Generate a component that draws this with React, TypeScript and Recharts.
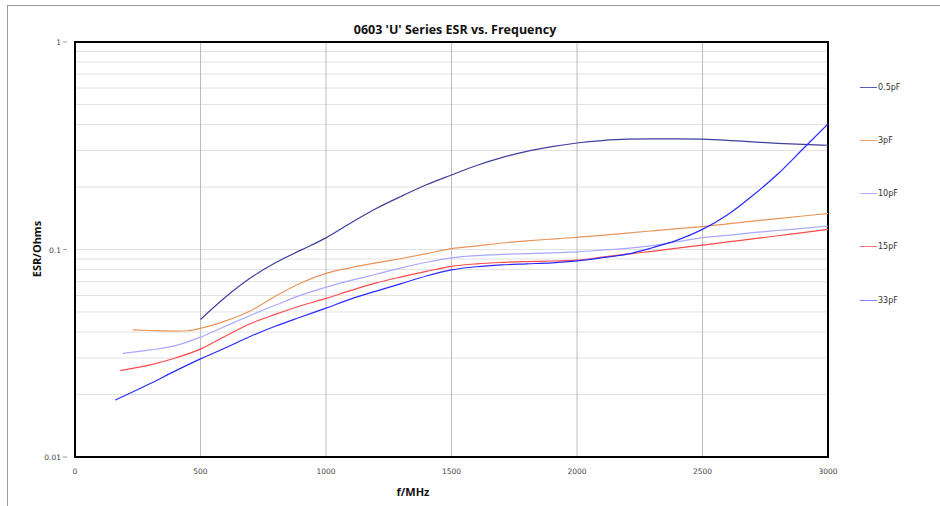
import React from 'react';
import { LineChart, Line, XAxis, YAxis, CartesianGrid, ReferenceArea } from 'recharts';

// Frequency (MHz) and ESR (Ohms) for each capacitance
const freq05 = [500, 600, 700, 800, 900, 1000, 1100, 1200, 1300, 1400, 1500, 1600, 1700, 1800, 1900, 2000, 2100, 2200, 2300, 2400, 2500, 2600, 2700, 2800, 2900, 3000];
const esr05 = [0.046, 0.059, 0.073, 0.0865, 0.0993, 0.1138, 0.1345, 0.1575, 0.1805, 0.205, 0.2286, 0.254, 0.277, 0.297, 0.313, 0.326, 0.335, 0.34, 0.341, 0.341, 0.34, 0.336, 0.33, 0.325, 0.321, 0.318];

const freq3 = [230, 300, 400, 450, 500, 600, 700, 800, 900, 1000, 1100, 1200, 1300, 1400, 1500, 1600, 1700, 1800, 1900, 2000, 2100, 2200, 2300, 2400, 2500, 2600, 2700, 2800, 2900, 3000];
const esr3 = [0.041, 0.0407, 0.0404, 0.0406, 0.0417, 0.0453, 0.0507, 0.0597, 0.069, 0.0767, 0.0818, 0.0862, 0.0905, 0.0955, 0.101, 0.104, 0.1075, 0.11, 0.1123, 0.1145, 0.117, 0.12, 0.123, 0.126, 0.129, 0.133, 0.137, 0.141, 0.145, 0.149];

const freq10 = [190, 300, 400, 500, 600, 700, 800, 900, 1000, 1100, 1200, 1300, 1400, 1500, 1600, 1700, 1800, 1900, 2000, 2100, 2200, 2300, 2400, 2500, 2600, 2700, 2800, 2900, 3000];
const esr10 = [0.0316, 0.0328, 0.0344, 0.0378, 0.0427, 0.0482, 0.054, 0.0603, 0.0658, 0.071, 0.076, 0.0815, 0.0868, 0.0912, 0.0935, 0.0947, 0.0955, 0.0963, 0.0975, 0.0993, 0.1013, 0.1045, 0.109, 0.114, 0.117, 0.1205, 0.1235, 0.1265, 0.1298];

const freq15 = [180, 300, 400, 500, 600, 700, 800, 900, 1000, 1100, 1200, 1300, 1400, 1500, 1600, 1700, 1800, 1900, 2000, 2100, 2200, 2300, 2400, 2500, 2600, 2700, 2800, 2900, 3000];
const esr15 = [0.0261, 0.0278, 0.03, 0.0331, 0.0383, 0.044, 0.0488, 0.0536, 0.0581, 0.0635, 0.069, 0.0738, 0.0785, 0.083, 0.0853, 0.0866, 0.0874, 0.088, 0.0888, 0.0918, 0.095, 0.098, 0.1015, 0.105, 0.1088, 0.1125, 0.1165, 0.1205, 0.125];

const freq33 = [160, 300, 400, 500, 600, 700, 800, 900, 1000, 1100, 1200, 1300, 1400, 1500, 1600, 1700, 1800, 1900, 2000, 2100, 2200, 2300, 2400, 2500, 2600, 2700, 2800, 2900, 3000];
const esr33 = [0.0188, 0.0226, 0.026, 0.0297, 0.0336, 0.0382, 0.0428, 0.0473, 0.0522, 0.0578, 0.063, 0.0685, 0.0745, 0.0797, 0.0826, 0.0843, 0.0853, 0.0863, 0.0882, 0.0913, 0.095, 0.102, 0.111, 0.125, 0.147, 0.182, 0.231, 0.305, 0.403];

const xTicks = [0, 500, 1000, 1500, 2000, 2500, 3000];
const yGridTicks = [0.01, 0.02, 0.03, 0.04, 0.05, 0.06, 0.07, 0.08, 0.09, 0.1, 0.2, 0.3, 0.4, 0.5, 0.6, 0.7, 0.8, 0.9, 1];
const yLabelTicks = [0.01, 0.1, 1];

const seriesNames = ['0.5pF', '3pF', '10pF', '15pF', '33pF'];
const lineColors = ['#3f3f9c', '#e8955a', '#a8a8ff', '#ff4a4a', '#2a2aff'];
const legendColors = ['#5a5ab4', '#eea06a', '#b0b0ff', '#ff7070', '#8080ff'];

const toData = (fs: number[], vs: number[]) => fs.map((f, i) => ({ f, v: vs[i] }));
const seriesData = [
  toData(freq05, esr05),
  toData(freq3, esr3),
  toData(freq10, esr10),
  toData(freq15, esr15),
  toData(freq33, esr33),
];

const tickFont = 'DejaVu Sans, Verdana, sans-serif';

const YTick = (props: any) => {
  const { x, y, payload } = props;
  if (!yLabelTicks.some((t) => Math.abs(t - payload.value) < 1e-9)) return null;
  return (
    <g>
      <line x1={x - 4} x2={x} y1={y} y2={y} stroke="#999" strokeWidth={1} />
      <text x={x - 6} y={y} dy={3} textAnchor="end" fontSize={7.5} fill="#444" fontFamily={tickFont}>
        {String(payload.value)}
      </text>
    </g>
  );
};

const XTick = (props: any) => {
  const { x, y, payload } = props;
  return (
    <text x={x} y={y} dy={9} textAnchor="middle" fontSize={7.5} fill="#444" fontFamily={tickFont}>
      {String(payload.value)}
    </text>
  );
};

export default function App() {
  return (
    <div style={{ position: 'absolute', left: 0, top: 0, width: 940, height: 506, background: '#fff', overflow: 'hidden' }}>
      <div style={{ position: 'absolute', left: 7, top: 5, width: 940, height: 520, borderLeft: '1px solid #9a9a9a', borderTop: '1px solid #9a9a9a' }} />
      <LineChart width={940} height={506} margin={{ top: 42, right: 112, bottom: 29, left: 35 }}>
        <CartesianGrid horizontal={true} vertical={false} stroke="#e2e2e2" strokeWidth={1} />
        <CartesianGrid horizontal={false} vertical={true} stroke="#bcbcbc" strokeWidth={1} />
        <XAxis
          type="number"
          dataKey="f"
          domain={[0, 3000]}
          ticks={xTicks}
          allowDataOverflow
          axisLine={false}
          tickLine={false}
          tick={<XTick />}
          height={20}
        />
        <YAxis
          type="number"
          dataKey="v"
          scale="log"
          domain={[0.01, 1]}
          ticks={yGridTicks}
          allowDataOverflow
          axisLine={false}
          tickLine={false}
          tick={<YTick />}
          width={40}
          interval={0}
        />
        {seriesData.map((d, i) => (
          <Line
            key={seriesNames[i]}
            data={d}
            dataKey="v"
            name={seriesNames[i]}
            type="monotone"
            stroke={lineColors[i]}
            strokeWidth={1.2}
            dot={false}
            activeDot={false}
            isAnimationActive={false}
          />
        ))}
        <ReferenceArea x1={0} x2={3000} y1={0.01} y2={1} fill="none" stroke="#000" strokeWidth={2} ifOverflow="visible" />
      </LineChart>
      <div style={{ position: 'absolute', left: 0, width: 910, top: 21, textAlign: 'center', fontFamily: 'Open Sans, DejaVu Sans, sans-serif', fontWeight: 700, fontSize: 12.5, color: '#111' }}>
        0603 'U' Series ESR vs. Frequency
      </div>
      <div style={{ position: 'absolute', left: 37 - 50, top: 249 - 8, width: 100, height: 16, lineHeight: '16px', textAlign: 'center', transform: 'rotate(-90deg)', fontFamily: 'Open Sans, DejaVu Sans, sans-serif', fontWeight: 700, fontSize: 11, color: '#111' }}>
        ESR/Ohms
      </div>
      <div style={{ position: 'absolute', left: 363, width: 100, top: 484, lineHeight: '16px', textAlign: 'center', fontFamily: 'Open Sans, DejaVu Sans, sans-serif', fontWeight: 700, fontSize: 11, color: '#111' }}>
        f/MHz
      </div>
      {seriesNames.map((n, i) => (
        <div key={n} style={{ position: 'absolute', left: 860, top: 87 + i * 53.25 - 6, height: 12, display: 'flex', alignItems: 'center' }}>
          <div style={{ width: 17, height: 0, borderTop: `1.2px solid ${legendColors[i]}` }} />
          <span style={{ marginLeft: 1, fontFamily: tickFont, fontSize: 8, color: '#333' }}>{n}</span>
        </div>
      ))}
    </div>
  );
}
